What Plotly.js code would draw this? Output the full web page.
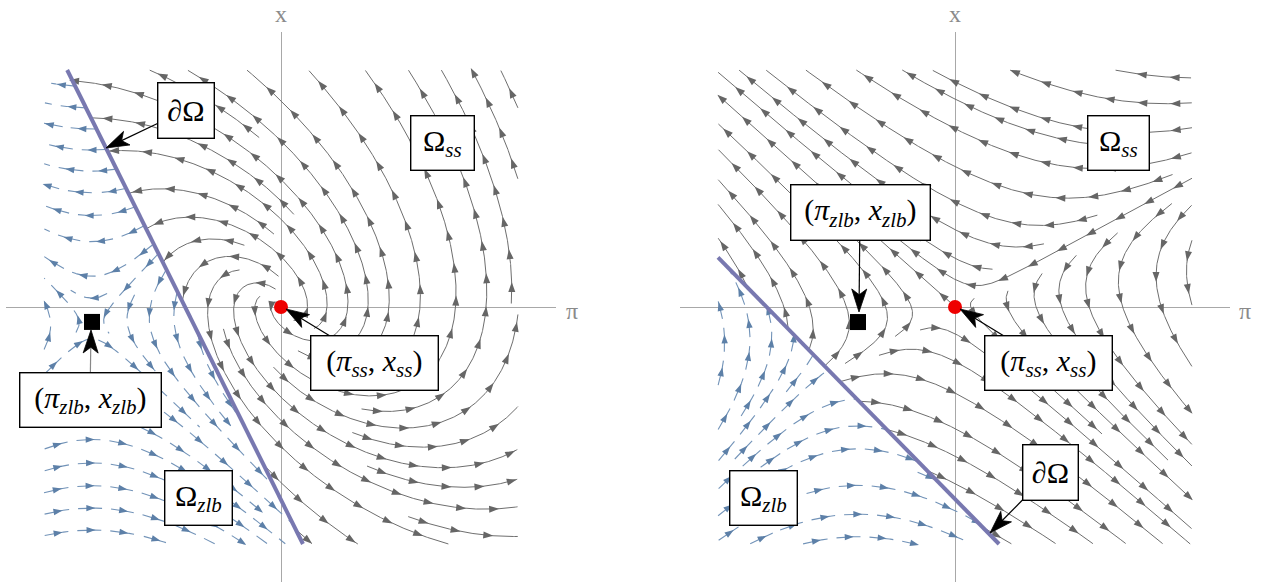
<!DOCTYPE html>
<html>
<head>
<meta charset="utf-8">
<script src="https://cdn.plot.ly/plotly-3.0.1.min.js"></script>
<style>
html, body { margin: 0; padding: 0; background: #fff; }
#plot { width: 1266px; height: 583px; }
</style>
</head>
<body>
<div id="plot"></div>
<script>
// model parameters, one panel each: [rho, kappa, sigma, phiPi, phiX, rNatural]
const leftParams = [0.079, 1, 1, 1.97, 0.98, 1.89];
const rightParams = [0.155, 1, 1, 0.515, 0.505, 0.97];
const steadyState = [0, 0];

// plotting window (model units) and the box the streams fill
const AXIS = 2.75;
const BOX = 2.37;

// label texts
const txtBoundary = '∂Ω';
const txtOmegaSS = 'Ω<sub><i>ss</i></sub>';
const txtOmegaZLB = 'Ω<sub><i>zlb</i></sub>';
const txtSS = '(<i>π</i><sub><i>ss</i></sub>, <i>x</i><sub><i>ss</i></sub>)';
const txtZLB = '(<i>π</i><sub><i>zlb</i></sub>, <i>x</i><sub><i>zlb</i></sub>)';

const W = 1266, H = 583;
const PX = 100;               // pixels per model unit
const leftCx = 281, rightCx = 955, axisY = 307;

function model(p) {
  const [rho, kappa, sigma, phiPi, phiX, r] = p;
  return {
    rate: (pi, x) => r + phiPi * pi + phiX * x,
    ss: (pi, x) => [rho * pi - kappa * x, ((phiPi - 1) * pi + phiX * x) / sigma],
    zlb: (pi, x) => [rho * pi - kappa * x, (-r - pi) / sigma],
    zlbEq: [-r, -rho * r / kappa],
    phiPi: phiPi, phiX: phiX, r: r
  };
}

// evenly spaced streamlines (Jobard-Lefer style)
function traceStreams(field, inRegion, dsep, minLen) {
  const h = 0.01, dtest = 0.5 * dsep, cs = dtest;
  const selfGap = Math.ceil(3 * dtest / h);
  const grid = new Map();
  const lines = [];
  let lineId = 0;

  function addPoint(x, y, id, idx, keys) {
    const k = Math.floor(x / cs) + ':' + Math.floor(y / cs);
    if (!grid.has(k)) grid.set(k, []);
    grid.get(k).push({x, y, id, idx});
    keys.push(k);
  }
  function removeLine(keys, id) {
    for (const k of keys) {
      const b = grid.get(k);
      if (b) grid.set(k, b.filter(q => q.id !== id));
    }
  }
  function near(x, y, id, idx, rad) {
    const n = Math.ceil(rad / cs);
    const cx = Math.floor(x / cs), cy = Math.floor(y / cs);
    for (let i = cx - n; i <= cx + n; i++) {
      for (let j = cy - n; j <= cy + n; j++) {
        const b = grid.get(i + ':' + j);
        if (!b) continue;
        for (const q of b) {
          if (q.id === id && Math.abs(q.idx - idx) < selfGap) continue;
          if ((q.x - x) * (q.x - x) + (q.y - y) * (q.y - y) < rad * rad) return true;
        }
      }
    }
    return false;
  }
  function dir(x, y, s) {
    const v = field(x, y);
    const n = Math.hypot(v[0], v[1]);
    if (n < 1e-7) return null;
    return [s * v[0] / n, s * v[1] / n];
  }
  function integrate(sx, sy, sign, id, keys) {
    const pts = [];
    let px = sx, py = sy, prev = null;
    for (let k = 1; k < 2500; k++) {
      const d1 = dir(px, py, sign);
      if (!d1) break;
      const d2 = dir(px + d1[0] * h / 2, py + d1[1] * h / 2, sign);
      if (!d2) break;
      if (prev && prev[0] * d2[0] + prev[1] * d2[1] < 0.8) break;
      const qx = px + d2[0] * h, qy = py + d2[1] * h;
      if (!inRegion(qx, qy)) break;
      const idx = sign * k;
      if (near(qx, qy, id, idx, dtest)) break;
      pts.push({x: qx, y: qy});
      addPoint(qx, qy, id, idx, keys);
      px = qx; py = qy; prev = d2;
    }
    return pts;
  }
  function tryLine(sx, sy) {
    if (!inRegion(sx, sy) || near(sx, sy, -1, 0, dsep * 0.98)) return null;
    const id = lineId++, keys = [];
    addPoint(sx, sy, id, 0, keys);
    const f = integrate(sx, sy, 1, id, keys);
    const b = integrate(sx, sy, -1, id, keys);
    const pts = b.reverse().concat([{x: sx, y: sy}], f);
    if ((pts.length - 1) * h < minLen) { removeLine(keys, id); return null; }
    lines.push(pts);
    return pts;
  }

  const steps = Math.floor(2 * BOX / dsep);
  for (let a = 0; a <= steps; a++) {
    for (let c = 0; c <= steps; c++) {
      const first = tryLine(-BOX + dsep * 0.5 + a * dsep, -BOX + dsep * 0.5 + c * dsep);
      if (!first) continue;
      const queue = [first];
      while (queue.length) {
        const L = queue.shift();
        for (let i = 0; i < L.length - 1; i += 6) {
          const dx = L[i + 1].x - L[i].x, dy = L[i + 1].y - L[i].y;
          const n = Math.hypot(dx, dy) || 1;
          for (const s of [-1, 1]) {
            const t = tryLine(L[i].x - s * dy / n * dsep, L[i].y + s * dx / n * dsep);
            if (t) queue.push(t);
          }
        }
      }
    }
  }
  return lines;
}

function addHead(x, y, ux, uy, len, wid, out) {
  const tx = x + ux * len * 0.5, ty = y + uy * len * 0.5;
  const bx = x - ux * len * 0.5, by = y - uy * len * 0.5;
  out.x.push(tx, bx - uy * wid, bx + uy * wid, tx, null);
  out.y.push(ty, by + ux * wid, by - ux * wid, ty, null);
}

// continuous lines, heads every `spacing`
function solidPaths(lines, spacing, len, wid) {
  const path = {x: [], y: []}, heads = {x: [], y: []};
  for (const L of lines) {
    let s = 0, next = spacing * 0.5;
    for (let i = 0; i < L.length; i++) {
      path.x.push(L[i].x); path.y.push(L[i].y);
      if (i === 0) continue;
      const a = L[i - 1], b = L[i];
      const dl = Math.hypot(b.x - a.x, b.y - a.y);
      while (s + dl >= next) {
        const t = (next - s) / dl;
        addHead(a.x + t * (b.x - a.x), a.y + t * (b.y - a.y), (b.x - a.x) / dl, (b.y - a.y) / dl, len, wid, heads);
        next += spacing;
      }
      s += dl;
    }
    path.x.push(null); path.y.push(null);
  }
  return {path, heads};
}

// lines cut into short dashes, one head in each dash
function dashedPaths(lines, dash, gap, len, wid) {
  const path = {x: [], y: []}, heads = {x: [], y: []};
  const period = dash + gap;
  for (const L of lines) {
    let s = 0, on = false, next = dash * 0.55;
    for (let i = 0; i < L.length; i++) {
      if (i > 0) {
        const a = L[i - 1], b = L[i];
        const dl = Math.hypot(b.x - a.x, b.y - a.y);
        while (s + dl >= next) {
          const t = (next - s) / dl;
          addHead(a.x + t * (b.x - a.x), a.y + t * (b.y - a.y), (b.x - a.x) / dl, (b.y - a.y) / dl, len, wid, heads);
          next += period;
        }
        s += dl;
      }
      const phase = s % period;
      if (phase < dash) {
        path.x.push(L[i].x); path.y.push(L[i].y); on = true;
      } else if (on) {
        path.x.push(null); path.y.push(null); on = false;
      }
    }
    path.x.push(null); path.y.push(null);
  }
  return {path, heads};
}

// boundary i = 0 clipped to the stream box
function boundaryLine(m) {
  const pts = [];
  for (const xv of [-BOX, BOX]) {
    const pi = (-m.r - m.phiX * xv) / m.phiPi;
    if (pi >= -BOX - 1e-9 && pi <= BOX + 1e-9) pts.push([pi, xv]);
  }
  for (const pv of [-BOX, BOX]) {
    const xv = (-m.r - m.phiPi * pv) / m.phiX;
    if (xv >= -BOX - 1e-9 && xv <= BOX + 1e-9) pts.push([pv, xv]);
  }
  pts.sort((a, b) => a[0] - b[0]);
  return {x: [pts[0][0], pts[pts.length - 1][0]], y: [pts[0][1], pts[pts.length - 1][1]]};
}

const inBox = (pi, x) => Math.abs(pi) <= BOX && Math.abs(x) <= BOX;

// px -> model units
const toData = (cx, px, py) => [(px - cx) / PX, (axisY - py) / PX];

// label boxes: [text, centre px, width, height, arrow tip px, arrow line colour]
const leftBoxes = [
  [txtBoundary, [186, 110], 57, 56, [106, 148], '#000'],
  [txtOmegaSS, [442, 143], 64, 55],
  [txtSS, [374, 363], 128, 55, [286, 309], '#000'],
  [txtZLB, [90, 400], 142, 55, [91, 330], '#888'],
  [txtOmegaZLB, [198, 498], 68, 55]
];
const rightBoxes = [
  [txtOmegaSS, [1118, 143], 62, 55],
  [txtZLB, [860, 212], 140, 56, [859, 312], '#000'],
  [txtSS, [1048, 363], 128, 55, [960, 309], '#000'],
  [txtBoundary, [1050, 472], 56, 56, [990, 533], '#000'],
  [txtOmegaZLB, [763, 498], 68, 55]
];

function arrowTraces(boxes, cx, base) {
  const out = [];
  for (const [, c, w, h, tip, col] of boxes) {
    if (!tip) continue;
    const dx = tip[0] - c[0], dy = tip[1] - c[1];
    const t = Math.min(dx ? (w / 2) / Math.abs(dx) : 1e9, dy ? (h / 2) / Math.abs(dy) : 1e9);
    const sx = c[0] + dx * t, sy = c[1] + dy * t;
    const n = Math.hypot(dx, dy), ux = dx / n, uy = dy / n;
    const headL = 23, headW = 7.5;
    const ex = tip[0] - ux * headL * 0.7, ey = tip[1] - uy * headL * 0.7;
    const hp = [
      [tip[0], tip[1]],
      [tip[0] - ux * headL - uy * headW, tip[1] - uy * headL + ux * headW],
      [tip[0] - ux * headL * 0.75, tip[1] - uy * headL * 0.75],
      [tip[0] - ux * headL + uy * headW, tip[1] - uy * headL - ux * headW],
      [tip[0], tip[1]]
    ].map(p => toData(cx, p[0], p[1]));
    const a = toData(cx, sx, sy), b = toData(cx, ex, ey);
    out.push(Object.assign({type: 'scatter', mode: 'lines', x: [a[0], b[0]], y: [a[1], b[1]],
      line: {color: col, width: 1.2}}, base));
    out.push(Object.assign({type: 'scatter', mode: 'lines', x: hp.map(p => p[0]), y: hp.map(p => p[1]),
      fill: 'toself', fillcolor: '#000', line: {color: '#000', width: 0.8}}, base));
  }
  return out;
}

function panelTraces(params, xa, ya, boxes, cx) {
  const m = model(params);
  const ssLines = traceStreams(m.ss, (p, x) => inBox(p, x) && m.rate(p, x) >= 0, 0.25, 0.12);
  const zlbLines = traceStreams(m.zlb, (p, x) => inBox(p, x) && m.rate(p, x) < 0, 0.21, 0.1);
  const ss = solidPaths(ssLines, 0.33, 0.1, 0.035);
  const zl = dashedPaths(zlbLines, 0.25, 0.08, 0.09, 0.032);
  const bd = boundaryLine(m);
  const base = {xaxis: xa, yaxis: ya, hoverinfo: 'skip', showlegend: false};
  return [
    Object.assign({type: 'scatter', mode: 'lines', x: ss.path.x, y: ss.path.y,
      line: {color: '#6e6e6e', width: 1}}, base),
    Object.assign({type: 'scatter', mode: 'lines', x: ss.heads.x, y: ss.heads.y, fill: 'toself',
      fillcolor: '#666666', line: {width: 0, color: '#666666'}}, base),
    Object.assign({type: 'scatter', mode: 'lines', x: zl.path.x, y: zl.path.y,
      line: {color: '#7293b8', width: 1.1}}, base),
    Object.assign({type: 'scatter', mode: 'lines', x: zl.heads.x, y: zl.heads.y, fill: 'toself',
      fillcolor: '#5d80a8', line: {width: 0, color: '#5d80a8'}}, base),
    Object.assign({type: 'scatter', mode: 'lines', x: bd.x, y: bd.y,
      line: {color: '#7878b0', width: 4}}, base),
    Object.assign({type: 'scatter', mode: 'markers', x: [steadyState[0]], y: [steadyState[1]],
      marker: {color: '#ee0000', size: 14}}, base),
    Object.assign({type: 'scatter', mode: 'markers', x: [m.zlbEq[0]], y: [m.zlbEq[1]],
      marker: {color: '#000', size: 16, symbol: 'square'}}, base)
  ].concat(arrowTraces(boxes, cx, base));
}

const traces = panelTraces(leftParams, 'x', 'y', leftBoxes, leftCx)
  .concat(panelTraces(rightParams, 'x2', 'y2', rightBoxes, rightCx));

const font = {family: "'Liberation Serif', 'Times New Roman', serif", size: 30, color: '#000'};
const annotations = [];
for (const [boxes, ref, cx] of [[leftBoxes, ['x', 'y'], leftCx], [rightBoxes, ['x2', 'y2'], rightCx]]) {
  for (const [text, c, w, h] of boxes) {
    const p = toData(cx, c[0], c[1]);
    annotations.push({xref: ref[0], yref: ref[1], x: p[0], y: p[1], text: text, font: font,
      showarrow: false, width: w - 2, height: h - 2, borderpad: 0, borderwidth: 1.4,
      bordercolor: '#000', bgcolor: '#fff'});
  }
}
const axisFont = {family: "'Liberation Serif', 'Times New Roman', serif", size: 24, color: '#8a8a8a'};
const paperY = py => (582 - py) / 550;
for (const [t, px, py] of [['x', 281, 14], ['π', 572, 311], ['x', 955, 14], ['π', 1245, 311]]) {
  annotations.push({xref: 'paper', yref: 'paper', x: px / W, y: paperY(py), text: t,
    showarrow: false, font: axisFont, xanchor: 'center', yanchor: 'middle'});
}

const ax = {range: [-AXIS, AXIS], showgrid: false, showticklabels: false, ticks: '',
  zeroline: true, zerolinecolor: '#a8a8a8', zerolinewidth: 1, showline: false, fixedrange: true};

const layout = {
  width: W, height: H,
  margin: {l: 0, r: 0, t: 32, b: 1},
  paper_bgcolor: '#fff', plot_bgcolor: '#fff',
  showlegend: false,
  xaxis: Object.assign({domain: [6 / W, 556 / W], anchor: 'y'}, ax),
  yaxis: Object.assign({domain: [0, 1], anchor: 'x'}, ax),
  xaxis2: Object.assign({domain: [680 / W, 1230 / W], anchor: 'y2'}, ax),
  yaxis2: Object.assign({domain: [0, 1], anchor: 'x2'}, ax),
  annotations: annotations
};

Plotly.newPlot('plot', traces, layout, {displayModeBar: false, staticPlot: true});
</script>
</body>
</html>
